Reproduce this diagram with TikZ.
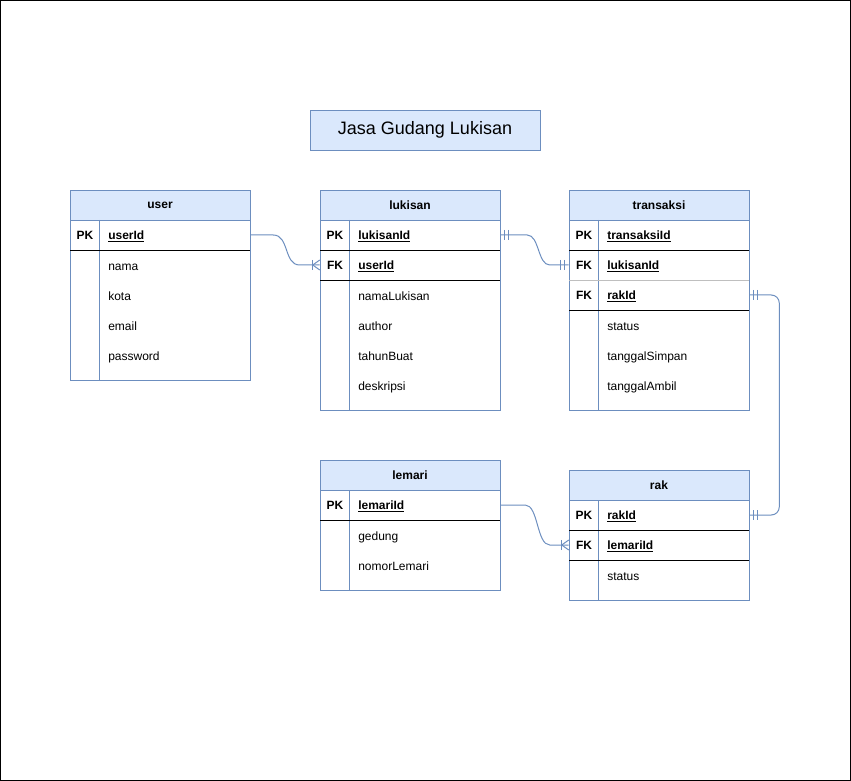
\documentclass[tikz,border=0pt]{standalone}
\usepackage{fontspec}
\setmainfont{Liberation Sans}
\definecolor{erblue}{HTML}{6C8EBF}
\definecolor{erfill}{HTML}{DAE8FC}
\begin{document}
\begin{tikzpicture}[x=0.75pt, y=-0.75pt]
        \tikzset{
        tbl head/.style={draw=erblue, fill=erfill, minimum width=135pt, minimum height=22.5pt, inner sep=0, font=\fontsize{9}{11}\selectfont\bfseries},
        tbl body/.style={draw=erblue, minimum width=135pt, inner sep=0, anchor=north},
        tbl key/.style={anchor=base, yshift=-3.2pt, inner sep=0, font=\fontsize{9}{11}\selectfont\bfseries},
        tbl field/.style={anchor=base west, yshift=-3.2pt, inner sep=0, font=\fontsize{9}{11}\selectfont},
        key field/.style={tbl field, font=\fontsize{9}{11}\selectfont\bfseries},
        col line/.style={draw=erblue, line width=0.6pt},
        row line/.style={draw=black, line width=0.6pt},
        rel/.style={draw=erblue, line width=0.75pt}
        }
        \useasboundingbox (0,0) rectangle (851,781);
        \draw[black, line width=1pt] (0.7,0.7) rectangle (850.3,780.3);

        \node[draw=erblue, fill=erfill, minimum width=172.5pt, minimum height=30pt, font=\fontsize{13.5}{16}\selectfont] (title) at (425,130) {Jasa Gudang Lukisan};

        % user
        \node[tbl body, minimum height=120pt] (user body) at (160,220) {};
        \node[tbl head] (user) at (160,205) {user};
        \draw[col line] ([xshift=22.5pt]user body.north west) -- ([xshift=22.5pt]user body.south west);
        \draw[row line] (70,250) -- (250,250);
        \node[tbl key] (user-pk) at (85,235) {PK};
        \node[key field] (user-id) at (108,235) {\underline{userId}};
        \foreach \y/\name in {266/nama, 296/kota, 326/email, 356/password}
            \node[tbl field] (user-\name) at (108,\y) {\name};

        % lukisan
        \node[tbl body, minimum height=142.5pt] (lukisan body) at (410,220) {};
        \node[tbl head] (lukisan) at (410,205) {lukisan};
        \draw[col line] ([xshift=22.5pt]lukisan body.north west) -- ([xshift=22.5pt]lukisan body.south west);
        \draw[row line] (320,250) -- (500,250);
        \draw[row line] (320,280) -- (500,280);
        \node[tbl key] (luk-pk) at (335,235) {PK};
        \node[key field] (luk-id) at (358,235) {\underline{lukisanId}};
        \node[tbl key] (luk-fk) at (335,265) {FK};
        \node[key field] (luk-uid) at (358,265) {\underline{userId}};
        \foreach \y/\name in {296/namaLukisan, 326/author, 356/tahunBuat, 386/deskripsi}
            \node[tbl field] (luk-\name) at (358,\y) {\name};

        % transaksi
        \node[tbl body, minimum height=142.5pt] (transaksi body) at (659,220) {};
        \node[tbl head] (transaksi) at (659,205) {transaksi};
        \draw[col line] ([xshift=22.5pt]transaksi body.north west) -- ([xshift=22.5pt]transaksi body.south west);
        \draw[row line] (569,250) -- (749,250);
        \draw[row line, draw=black!25] (569,280) -- (749,280);
        \draw[row line] (569,310) -- (749,310);
        \node[tbl key] (tr-pk) at (584,235) {PK};
        \node[key field] (tr-id) at (607,235) {\underline{transaksiId}};
        \node[tbl key] (tr-fk1) at (584,265) {FK};
        \node[key field] (tr-luk) at (607,265) {\underline{lukisanId}};
        \node[tbl key] (tr-fk2) at (584,295) {FK};
        \node[key field] (tr-rak) at (607,295) {\underline{rakId}};
        \foreach \y/\name in {326/status, 356/tanggalSimpan, 386/tanggalAmbil}
            \node[tbl field] (tr-\name) at (607,\y) {\name};

        % lemari
        \node[tbl body, minimum height=75pt] (lemari body) at (410,490) {};
        \node[tbl head] (lemari) at (410,475) {lemari};
        \draw[col line] ([xshift=22.5pt]lemari body.north west) -- ([xshift=22.5pt]lemari body.south west);
        \draw[row line] (320,520) -- (500,520);
        \node[tbl key] (lem-pk) at (335,505) {PK};
        \node[key field] (lem-id) at (358,505) {\underline{lemariId}};
        \foreach \y/\name in {536/gedung, 566/nomorLemari}
            \node[tbl field] (lem-\name) at (358,\y) {\name};

        % rak
        \node[tbl body, minimum height=75pt] (rak body) at (659,500) {};
        \node[tbl head] (rak) at (659,485) {rak};
        \draw[col line] ([xshift=22.5pt]rak body.north west) -- ([xshift=22.5pt]rak body.south west);
        \draw[row line] (569,530) -- (749,530);
        \draw[row line] (569,560) -- (749,560);
        \node[tbl key] (rak-pk) at (584,515) {PK};
        \node[key field] (rak-id) at (607,515) {\underline{rakId}};
        \node[tbl key] (rak-fk) at (584,545) {FK};
        \node[key field] (rak-lem) at (607,545) {\underline{lemariId}};
        \node[tbl field] (rak-status) at (607,576) {status};

        % relations
        \coordinate (c1a) at (user.east |- 0,235);
        \coordinate (c1b) at (lukisan.west |- 0,265);
        \coordinate (c2a) at (lukisan.east |- 0,235);
        \coordinate (c2b) at (transaksi.west |- 0,265);
        \coordinate (c3a) at (transaksi.east |- 0,295);
        \coordinate (c3b) at (rak.east |- 0,515);
        \coordinate (c4a) at (lemari.east |- 0,505);
        \coordinate (c4b) at (rak.west |- 0,545);

        \draw[rel] (c1a) -- ++(23,0) .. controls +(16,0) and +(-16,0) .. ([xshift=-15pt]c1b) -- (c1b);
        \draw[rel] (c2a) -- ++(27,0) .. controls +(12,0) and +(-12,0) .. ([xshift=-14.25pt]c2b) -- (c2b);
        \draw[rel, rounded corners=6pt] (c3a) -- ++(30,0) |- (c3b);
        \draw[rel] (c4a) -- ++(25,0) .. controls +(13,0) and +(-13,0) .. ([xshift=-14.25pt]c4b) -- (c4b);

        % one or many
        \foreach \c in {c1b, c4b} {
            \draw[rel] ([xshift=-5.25pt]\c) ++(0,-5) -- ++(0,10);
            \draw[rel] ([xshift=-5.25pt]\c) -- ([yshift=3.75pt]\c);
            \draw[rel] ([xshift=-5.25pt]\c) -- ([yshift=-3.75pt]\c);
        }
        % mandatory one
        \foreach \c/\s in {c2a/1, c2b/-1, c3a/1, c3b/1}
            \foreach \d in {3, 6}
                \draw[rel] ([xshift=\s*\d pt]\c) ++(0,-5) -- ++(0,10);
\end{tikzpicture}
\end{document}
